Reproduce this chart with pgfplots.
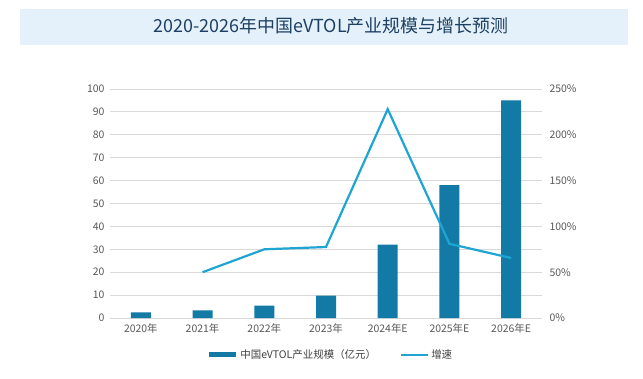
\documentclass[border=0pt]{standalone}
\usepackage{fontspec}
\setmainfont{Noto Sans CJK SC}
\usepackage{pgfplots}
\pgfplotsset{compat=1.18}
\definecolor{barc}{HTML}{137AA6}
\definecolor{linec}{HTML}{1FA5D3}
\definecolor{titlebg}{HTML}{E4F1FA}
\definecolor{titlefg}{HTML}{1D3F63}
\definecolor{tickc}{HTML}{595959}
\definecolor{gridc}{HTML}{D9D9D9}
\begin{document}
\begin{tikzpicture}[x=1bp,y=1bp]
\fill[white] (0,0) rectangle (643,378);
\fill[titlebg] (20,333) rectangle (628,369);
\node[font=\fontsize{18}{18}\selectfont, text=titlefg] at (331,352) {2020-2026年中国eVTOL产业规模与增长预测};
\begin{axis}[at={(110bp,60bp)}, anchor=south west, scale only axis,
  width=432bp, height=229bp,
  xmin=-0.5, xmax=6.5, ymin=0, ymax=100,
  ytick={0,10,...,100}, xtick={0,...,6},
  xticklabels={2020年,2021年,2022年,2023年,2024年E,2025年E,2026年E},
  axis x line*=bottom, axis y line*=left,
  y axis line style={draw=none}, x axis line style={gridc, line width=0.8pt},
  major tick length=0pt,
  ymajorgrids, grid style={gridc, line width=0.8pt},
  tick label style={font=\fontsize{10.5}{11}\selectfont, text=tickc},
  /pgf/number format/assume math mode=true,
  yticklabel style={xshift=-2bp},
  xticklabel style={yshift=-2bp},
]
\addplot[ybar, bar width=20bp, fill=barc, draw=none] coordinates {(0,2.5)(1,3.3)(2,5.4)(3,9.8)(4,32)(5,58)(6,95)};
\end{axis}
\begin{axis}[at={(110bp,60bp)}, anchor=south west, scale only axis,
  width=432bp, height=229bp,
  xmin=-0.5, xmax=6.5, ymin=0, ymax=250,
  ytick={0,50,...,250},
  yticklabel={\pgfmathprintnumber{\tick}\%},
  axis x line=none, axis y line*=right,
  y axis line style={draw=none},
  major tick length=0pt,
  tick label style={font=\fontsize{10.5}{11}\selectfont, text=tickc},
  /pgf/number format/assume math mode=true,
  yticklabel style={xshift=4bp},
  legend columns=2,
  legend style={at={(0.51,-0.16)}, anchor=center, draw=none, fill=none,
    font=\fontsize{10.5}{11}\selectfont, text=black!75,
    /tikz/every even column/.append style={column sep=22bp}},
  legend image code/.code={\draw[#1] (0bp,0bp) -- (27bp,0bp);},
]
\addlegendimage{barc, line width=5bp}
\addlegendentry{中国eVTOL产业规模（亿元）}
\addplot[linec, line width=2.2bp] coordinates {(1,50)(2,75)(3,77.5)(4,228)(5,81)(6,65.5)};
\addlegendentry{增速}
\end{axis}
\end{tikzpicture}
\end{document}
